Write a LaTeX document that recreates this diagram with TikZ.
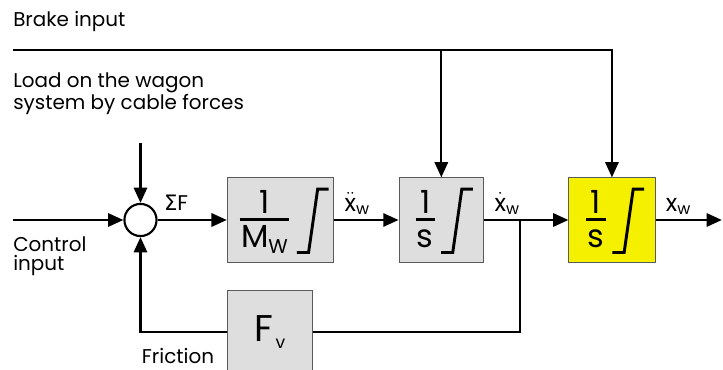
\documentclass[tikz,border=0pt]{standalone}
\usepackage{fontspec}
\setmainfont{Poppins}
\newfontfamily\grk{DejaVu Sans}
\usetikzlibrary{positioning, arrows.meta, calc}
\definecolor{blkgray}{RGB}{222, 222, 222}
\definecolor{blkedge}{RGB}{90, 90, 90}
\definecolor{intyellow}{RGB}{245, 240, 0}
\tikzset{
  blk/.style={
    draw=blkedge, line width=0.7pt, fill=blkgray,
    minimum height=2.23cm, inner sep=0pt,
    font=\fontsize{24}{28}\selectfont,
  },
  blk yl/.style={blk, fill=intyellow},
  sumpt/.style={circle, draw, line width=1.6pt, fill=white,
    minimum size=0.85cm, inner sep=0pt},
  sig/.style={line width=1.7pt},
  arr/.style={sig, -{Triangle[length=11.5pt, width=10pt]}},
  intg/.style={line width=2.2pt},
  lbl/.style={font=\fontsize{15}{14}\selectfont, inner sep=0pt, align=left},
  var/.style={font=\fontsize{18}{18}\selectfont, inner sep=0pt,
    anchor=base west, xshift=7pt, yshift=6.7pt},
}
% fraction 1/x, decalee a gauche du signe integral
\newsavebox{\frden}
\newcommand{\fr}[1]{\sbox{\frden}{#1}%
  \vbox{\offinterlineskip\halign{\hfil##\hfil\cr
    1\cr\noalign{\kern3.8pt}
    \vrule width\dimexpr\wd\frden+2pt\relax height2.2pt depth0pt\cr
    \noalign{\kern2.8pt}
    \raisebox{0pt}[\height][2pt]{\vphantom{M}\usebox{\frden}}\cr}}\kern0.85cm}
\newcommand{\integ}[2]{\draw[intg] ($(#1.east)+(#2,0)+(-0.84,-0.86)$)
  -- ++(0.31,0) -- ++(0.24,1.675) -- ++(0.29,0);}
\newcommand{\xw}[1]{$#1{\hbox{x}}$\raisebox{-2.5pt}{\fontsize{12}{12}\selectfont w}}

\begin{document}
\begin{tikzpicture}[node distance=1.8cm, >=Stealth]
\useasboundingbox (0,0) rectangle (19.13,-9.764);

\node[sumpt] (sum) at (3.717,-5.821) {};

\node[blk, minimum width=2.82cm, right=1.83cm of sum] (mw)
  {\fr{M\raisebox{-5pt}{\fontsize{15}{15}\selectfont W}}};
\node[blk, minimum width=2.24cm, right=1.70cm of mw] (s1) {\fr{s}};
\node[blk yl, minimum width=2.28cm, right=2.23cm of s1] (yel) {\fr{s}};
\node[blk, minimum width=2.25cm, minimum height=2.21cm,
  font=\fontsize{28}{30}\selectfont,
  below right=0.72cm and 0cm of mw.south west] (fv)
  {F\hspace{2pt}\raisebox{-5.7pt}{\fontsize{13}{13}\selectfont v}};

\integ{mw}{-0.15}
\integ{s1}{-0.30}
\integ{yel}{-0.30}

% Texte
\node[lbl, anchor=base west] (brakelbl) at (0.344,-0.706) {Brake input};
\node[lbl, anchor=north west] (loadlbl) at (0.344,-1.913)
  {Load on the wagon\\system by cable forces};
\node[lbl, anchor=north west] (ctllbl) at (0.344,-6.263) {Control\\input};
\node[lbl, anchor=base west] (frlbl) at (3.749,-9.613) {Friction};

% Signaux
\coordinate (ctl) at (0.344,-5.821);
\coordinate (load) at (3.717,-3.784);
\coordinate (brk) at (0.344,-1.323);
\coordinate (out) at (19.10,-5.821);
\coordinate (br) at ($(s1.east)!0.43!(yel.west)$);

\draw[arr] (ctl) -- (sum);
\draw[arr] (load) -- (sum);
\draw[arr] (sum) -- (mw) node[var, pos=0, xshift=-3pt, yshift=0.8pt,
  font=\fontsize{16}{16}\selectfont]{{\grk Σ}F};
\draw[arr] (mw) -- (s1) node[var, pos=0]{\xw{\ddot}};
\draw[arr] (s1) -- (yel) node[var, pos=0]{\xw{\dot}};
\draw[arr] (yel) -- (out) node[var, pos=0]{\xw{}};
\draw[sig] (br) |- (fv);
\draw[arr] (fv) -| (sum);
\draw[arr] (brk) -| (yel);
\draw[arr] (brk -| s1) -- (s1);

\end{tikzpicture}
\end{document}
